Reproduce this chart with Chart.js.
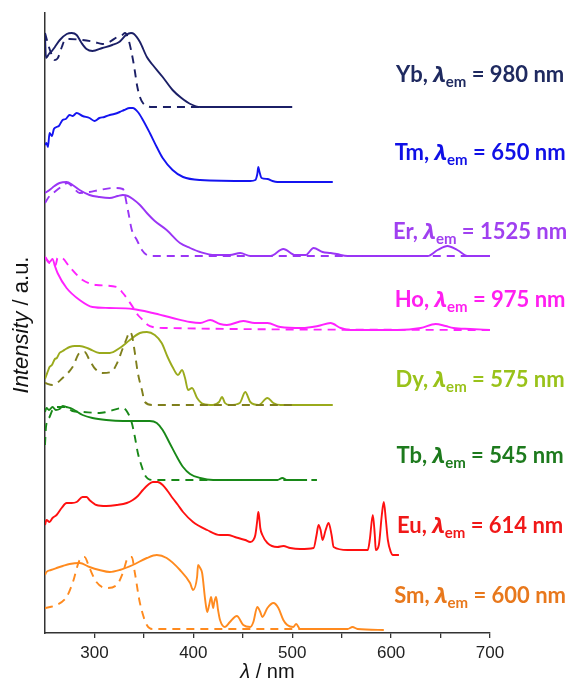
<!DOCTYPE html>
<html><head><meta charset="utf-8">
<script src="https://cdn.jsdelivr.net/npm/chart.js@4.4.0/dist/chart.umd.min.js"></script>
<style>html,body{margin:0;padding:0;background:#fff;}</style>
</head><body>
<canvas id="c" width="570" height="680"></canvas>
<script>
// ---- data (wavelength in nm, intensity in a.u. relative to each trace's baseline) ----
const ybX  = [250,251,254,257,260,265,272,277,282,287,292,298,308,318,325,332,337,340,346,353,359,369,379,388,397,407,450,500];
const ybY  = [7.1,4.9,5.3,5.6,6.0,6.7,7.3,7.4,7.2,6.4,5.8,5.6,5.9,6.2,6.5,7.2,7.4,7.3,6.5,5.0,4.2,3.0,1.7,0.9,0.3,0,0,0];
const ybDX = [250,255,260,263,267,270,275,288,300,308,315,323,328,331,334,337,339,341,343,346,349,353,359,410];
const ybDY = [7.4,5.7,4.7,4.9,6.0,6.7,6.8,6.7,6.5,6.3,6.5,7.0,7.2,7.4,6.9,5.7,4.7,3.5,2.2,1.0,0.4,0.1,0,0];

const tmX  = [250,251.5,253,254.6,257,259,261.7,264,267.8,271,274.9,278,282,288,295,300,305,310,315.5,320,325.6,330,335.8,338.8,343.9,349,356,363,369,379,389.6,406.9,457.6,462.7,464.7,465.7,466.7,469,475,480,485,541];
const tmY  = [3.7,3.9,3.5,4.9,4.6,5.3,5.5,5.6,6.2,6.3,6.7,6.6,6.9,6.6,6.4,6.1,6.4,6.5,6.7,6.8,7.0,7.2,7.4,7.4,7.0,6.2,4.9,3.5,2.4,1.2,0.5,0.2,0.1,0.2,0.8,1.5,1.1,0.4,0.3,0.1,0,0];

const erX  = [250,254.6,259.6,264.7,271.8,277.9,285,295,305,315.5,323.6,328.7,333.8,338.8,346,353,361,373,386.5,396.7,406.9,422,437,447.5,457.6,478,491,503,513.6,521.6,530.7,538.8,545,556,637,647,657,667,678,700];
const erY  = [6.3,6.6,7.0,7.3,7.4,7.1,6.6,6.1,5.9,5.8,6.0,6.1,6.0,5.7,5.1,4.3,3.5,2.6,1.3,0.8,0.4,0.1,0.1,0.3,0,0,0.7,0.1,0.1,0.8,0.4,0.3,0.2,0,0,0.6,1.0,0.6,0,0];
const erDX = [250,254.6,259.6,264.7,269.8,272.8,277.9,285,295,305,318.5,328.7,333.8,337.8,342.9,348,353,359,700];
const erDY = [5.3,6.0,6.4,6.8,7.2,7.3,6.9,6.3,6.4,6.6,6.8,6.7,4.6,2.6,1.6,0.6,0.1,0,0];

const hoX  = [250,254.6,257.6,260,262.7,271.8,285,298,315,338.8,359,379,396.7,407,417,427,434,450.5,462,475,488,510,526,538.8,549,559,606,630,645,655,663,680,700];
const hoY  = [7.3,6.8,7.1,6.4,5.7,4.2,3.0,2.3,2.2,2.1,1.7,1.2,0.8,0.7,1.0,0.6,0.5,0.9,0.7,0.7,0.3,0.2,0.4,0.7,0.2,0,0,0.2,0.6,0.4,0.2,0.1,0];
const hoDX = [250,254.6,257.6,260.7,262.7,266.8,274.9,288,302,322.6,328.7,338.8,343.9,349,354,359,371,700];
const hoDY = [7.3,6.7,6.8,6.5,7.2,7.2,6.3,5.0,4.5,4.3,3.7,2.3,1.5,1.0,0.5,0.3,0.2,0];

const dyX  = [250,251.5,253,254.6,257,260,262,264.7,268,271,274.9,280,285,295,305,315.5,325.6,335.8,346,353,361,368,374,379,384.5,388.6,391.6,394.7,398.7,403.8,410,420,426,429,432,437,447,452.5,457.6,466,474.9,481,488,541];
const dyY  = [2.6,3.0,3.4,3.8,4.0,4.6,4.7,5.2,5.4,5.6,5.8,5.9,5.9,5.6,5.2,5.2,5.7,6.5,7.2,7.3,7.0,6.2,4.8,3.8,3.0,3.5,2.7,1.5,1.7,0.7,0.1,0,0.3,0.8,0.2,0,0.2,1.3,0.3,0,0.7,0.2,0,0];
const dyDX = [250,257.6,267.8,277.9,285,290,295,300,308,317,323,328,332,335.8,337.8,340.9,343.9,348,351,359,500];
const dyDY = [2.2,2.0,2.7,3.8,5.2,5.3,4.5,3.7,3.2,3.3,4.2,5.5,6.5,7.3,7.0,5.2,3.2,1.5,0.3,0,0];

const tbX  = [250,251.5,254,257.6,261,264.7,268,271.8,277.9,288,298,312,328.7,346,356,363,369,376,383.5,389.6,396.7,406.9,420,485,490,495,515];
const tbY  = [6.8,7.2,7.0,7.3,7.0,7.1,7.4,7.3,7.1,6.5,6.2,6.0,5.9,5.9,5.9,5.7,5.0,3.7,2.3,1.3,0.6,0.2,0,0,0.2,0,0];
const tbDX = [250,251,254.6,257.6,262.7,271.8,277.9,288,305,312,328.7,333.8,337.8,340.9,343.9,348,351,359,525];
const tbDY = [3.5,5.3,6.3,7.0,7.3,7.3,6.9,6.8,6.7,6.8,7.2,6.7,5.7,4.3,2.7,1.3,0.5,0,0];

const euX  = [250,251.5,254.6,257.6,261.7,266.8,271.8,276.9,282,288,292,295,302,312,322.6,332.7,338.8,343.9,349,354,359,364,369,374,379,384.5,389.6,399.7,414,427,435,442,452.5,457.6,460.7,462.7,464.7,465.7,466.7,467.7,469.8,474.9,485,491,498,508,521.6,524.6,526.6,528.7,530.7,533.8,536.8,539.8,541.9,556,576.4,578.4,581.5,583.5,584.5,587.6,590.6,592.6,594.7,596.7,599.7,601.8,607.9];
const euY  = [2.4,2.9,2.7,3.1,3.4,4.1,4.6,4.6,4.7,5.2,5.2,4.9,4.4,4.3,4.4,4.6,4.9,5.3,5.9,6.4,6.7,6.7,6.4,5.8,5.1,4.4,3.7,2.7,1.9,1.4,1.4,1.2,0.9,0.7,0.9,1.4,2.9,3.7,3.1,2.1,1.4,0.6,0.2,0.3,0.1,0,0.1,1.4,2.4,1.9,0.9,1.9,2.6,1.4,0.2,-0.1,-0.1,0.9,3.4,1.4,-0.1,0.4,3.4,4.7,2.9,0.9,-0.3,-0.6,-0.6];

const smX  = [250,251.5,256,261.7,268,274.9,285,295,305,315.5,325.6,338.8,353,363,373,386.5,396.7,399.7,403.8,404.8,406.9,408.9,412,414,416,418,420,421,423,425,427,432,437,444,450.5,457.6,460.7,464.7,467.7,469.8,474.9,481,486,491,495,501,504,508,556,561,566,592.6];
const smY  = [5.4,5.7,5.9,6.1,6.3,6.5,6.6,6.2,5.9,5.7,5.9,6.4,7.1,7.4,7.1,5.9,4.6,3.9,5.2,6.4,6.1,5.6,2.9,1.7,2.4,3.2,2.1,2.6,3.2,1.9,0.9,0.2,0.7,1.3,0.4,0.2,0.7,2.2,1.7,1.2,2.1,2.6,2.1,0.9,0.4,0.2,0.5,0,0,0.2,0,-0.1];
const smDX = [250,261.7,271.8,277.9,285,290,295,302,312,322.6,328.7,333.8,337.8,340.9,346,353,359,510];
const smDY = [2.1,2.4,3.2,4.6,6.9,7.2,6.1,4.7,4.1,4.4,5.6,7.1,7.2,5.6,2.6,0.4,0,0];

// vertical offsets of the stacked traces
const offsets = {Yb:52.6, Tm:45.1, Er:37.7, Ho:30.3, Dy:22.8, Tb:15.3, Eu:8.4, Sm:0.4};

// label texts
const labelNames = ['Yb','Tm','Er','Ho','Dy','Tb','Eu','Sm'];
const labelEm    = ['980','650','1525','975','575','545','614','600'];
const labelY     = [55.1,47.3,39.4,32.6,24.6,17.0,10.0,3.0];
const labelColors= ['#1f2a60','#1010e6','#a040f0','#ff1ff0','#99c21a','#1d7a1d','#f01818','#e8781c'];

const xMin = 250, xMax = 700, xStep = 50;
const xTickLabels = [300,400,500,600,700];

// ---- build datasets ----
function pts(xs, ys, off){ return xs.map((x,i)=>({x:x, y:ys[i]+off})); }
function ds(xs, ys, off, color, dashed){
  return {data: pts(xs,ys,off), borderColor: color, borderWidth: 1.9, pointRadius: 0,
    cubicInterpolationMode: 'monotone', borderDash: dashed ? [8,6] : [], fill:false};
}
const datasets = [
  ds(ybDX, ybDY, offsets.Yb, '#1b1f66', true),
  ds(ybX,  ybY,  offsets.Yb, '#1b1f66', false),
  ds(tmX,  tmY,  offsets.Tm, '#1414f0', false),
  ds(erDX, erDY, offsets.Er, '#9a35f5', true),
  ds(erX,  erY,  offsets.Er, '#9a35f5', false),
  ds(hoDX, hoDY, offsets.Ho, '#ff22ff', true),
  ds(hoX,  hoY,  offsets.Ho, '#ff22ff', false),
  ds(dyDX, dyDY, offsets.Dy, '#7f7f1c', true),
  ds(dyX,  dyY,  offsets.Dy, '#9aaa1c', false),
  ds(tbDX, tbDY, offsets.Tb, '#188818', true),
  ds(tbX,  tbY,  offsets.Tb, '#188818', false),
  ds(euX,  euY,  offsets.Eu, '#ff1010', false),
  ds(smDX, smDY, offsets.Sm, '#ff8a1e', true),
  ds(smX,  smY,  offsets.Sm, '#ff8a1e', false),
];

const textPlugin = {
  id: 'texts',
  afterDraw(chart){
    const ctx = chart.ctx, xs = chart.scales.x, ys = chart.scales.y, ca = chart.chartArea;
    ctx.save();
    // series labels
    const mainF = 'bold 22px Lato, "Open Sans", sans-serif';
    const lamF  = 'italic bold 22px "Open Sans", "DejaVu Sans", sans-serif';
    const subF  = 'bold 15px Lato, "Open Sans", sans-serif';
    const cx = xs.getPixelForValue(690);
    labelNames.forEach((n,i)=>{
      const segs = [[n+', ', mainF, 0],['λ', lamF, 0],['em', subF, 5],[' = '+labelEm[i]+' nm', mainF, 0]];
      let w = 0;
      segs.forEach(s=>{ ctx.font = s[1]; w += ctx.measureText(s[0]).width; });
      let x = cx - w/2;
      const y = ys.getPixelForValue(labelY[i]);
      ctx.fillStyle = labelColors[i];
      ctx.textBaseline = 'alphabetic';
      ctx.textAlign = 'left';
      segs.forEach(s=>{ ctx.font = s[1]; ctx.fillText(s[0], x, y + s[2]); x += ctx.measureText(s[0]).width; });
    });
    // x axis title
    ctx.fillStyle = '#111';
    ctx.textBaseline = 'middle';
    const xt = [['λ','italic 20px "Liberation Sans", Arial, sans-serif'],[' / nm','20px "Liberation Sans", Arial, sans-serif']];
    let w = 0; xt.forEach(s=>{ctx.font=s[1]; w+=ctx.measureText(s[0]).width;});
    let x = (ca.left+ca.right)/2 - w/2;
    xt.forEach(s=>{ctx.font=s[1]; ctx.fillText(s[0], x, 672); x+=ctx.measureText(s[0]).width;});
    // y axis title
    const yt = [['Intensity','italic 22px "Liberation Sans", Arial, sans-serif'],[' / a.u.','22px "Liberation Sans", Arial, sans-serif']];
    ctx.translate(22, (ca.top+ca.bottom)/2 + 2);
    ctx.rotate(-Math.PI/2);
    w = 0; yt.forEach(s=>{ctx.font=s[1]; w+=ctx.measureText(s[0]).width;});
    x = -w/2;
    yt.forEach(s=>{ctx.font=s[1]; ctx.fillText(s[0], x, 0); x+=ctx.measureText(s[0]).width;});
    ctx.restore();
  }
};

new Chart(document.getElementById('c'), {
  type: 'line',
  data: { datasets },
  options: {
    responsive: false, animation: false,
    layout: { padding: { left: 0, right: 80, top: 13, bottom: 0 } },
    plugins: { legend: { display: false }, tooltip: { enabled: false } },
    scales: {
      x: {
        type: 'linear', min: xMin, max: xMax,
        afterFit(s){ s.height = 47; },
        afterBuildTicks(s){ const t=[]; for(let v=xMin; v<=xMax; v+=xStep) t.push({value:v}); s.ticks = t; },
        ticks: { autoSkip:false, maxRotation:0, padding: 5, color:'#222',
          font: { family: '"Liberation Sans", Arial, sans-serif', size: 17 },
          callback: v => xTickLabels.includes(v) ? String(v) : '' },
        grid: { display: true, drawOnChartArea: false, drawTicks: true, tickLength: 5,
          color: ctx => (ctx.tick && ctx.tick.value === xMin) ? 'rgba(0,0,0,0)' : '#333', lineWidth: 1.3 },
        border: { display: true, color: '#333', width: 1.5 }
      },
      y: {
        min: 0, max: 62,
        afterFit(s){ s.width = 45; },
        ticks: { display: false },
        grid: { display: false },
        border: { display: true, color: '#333', width: 1.5 }
      }
    }
  },
  plugins: [textPlugin]
});
</script>
</body></html>
